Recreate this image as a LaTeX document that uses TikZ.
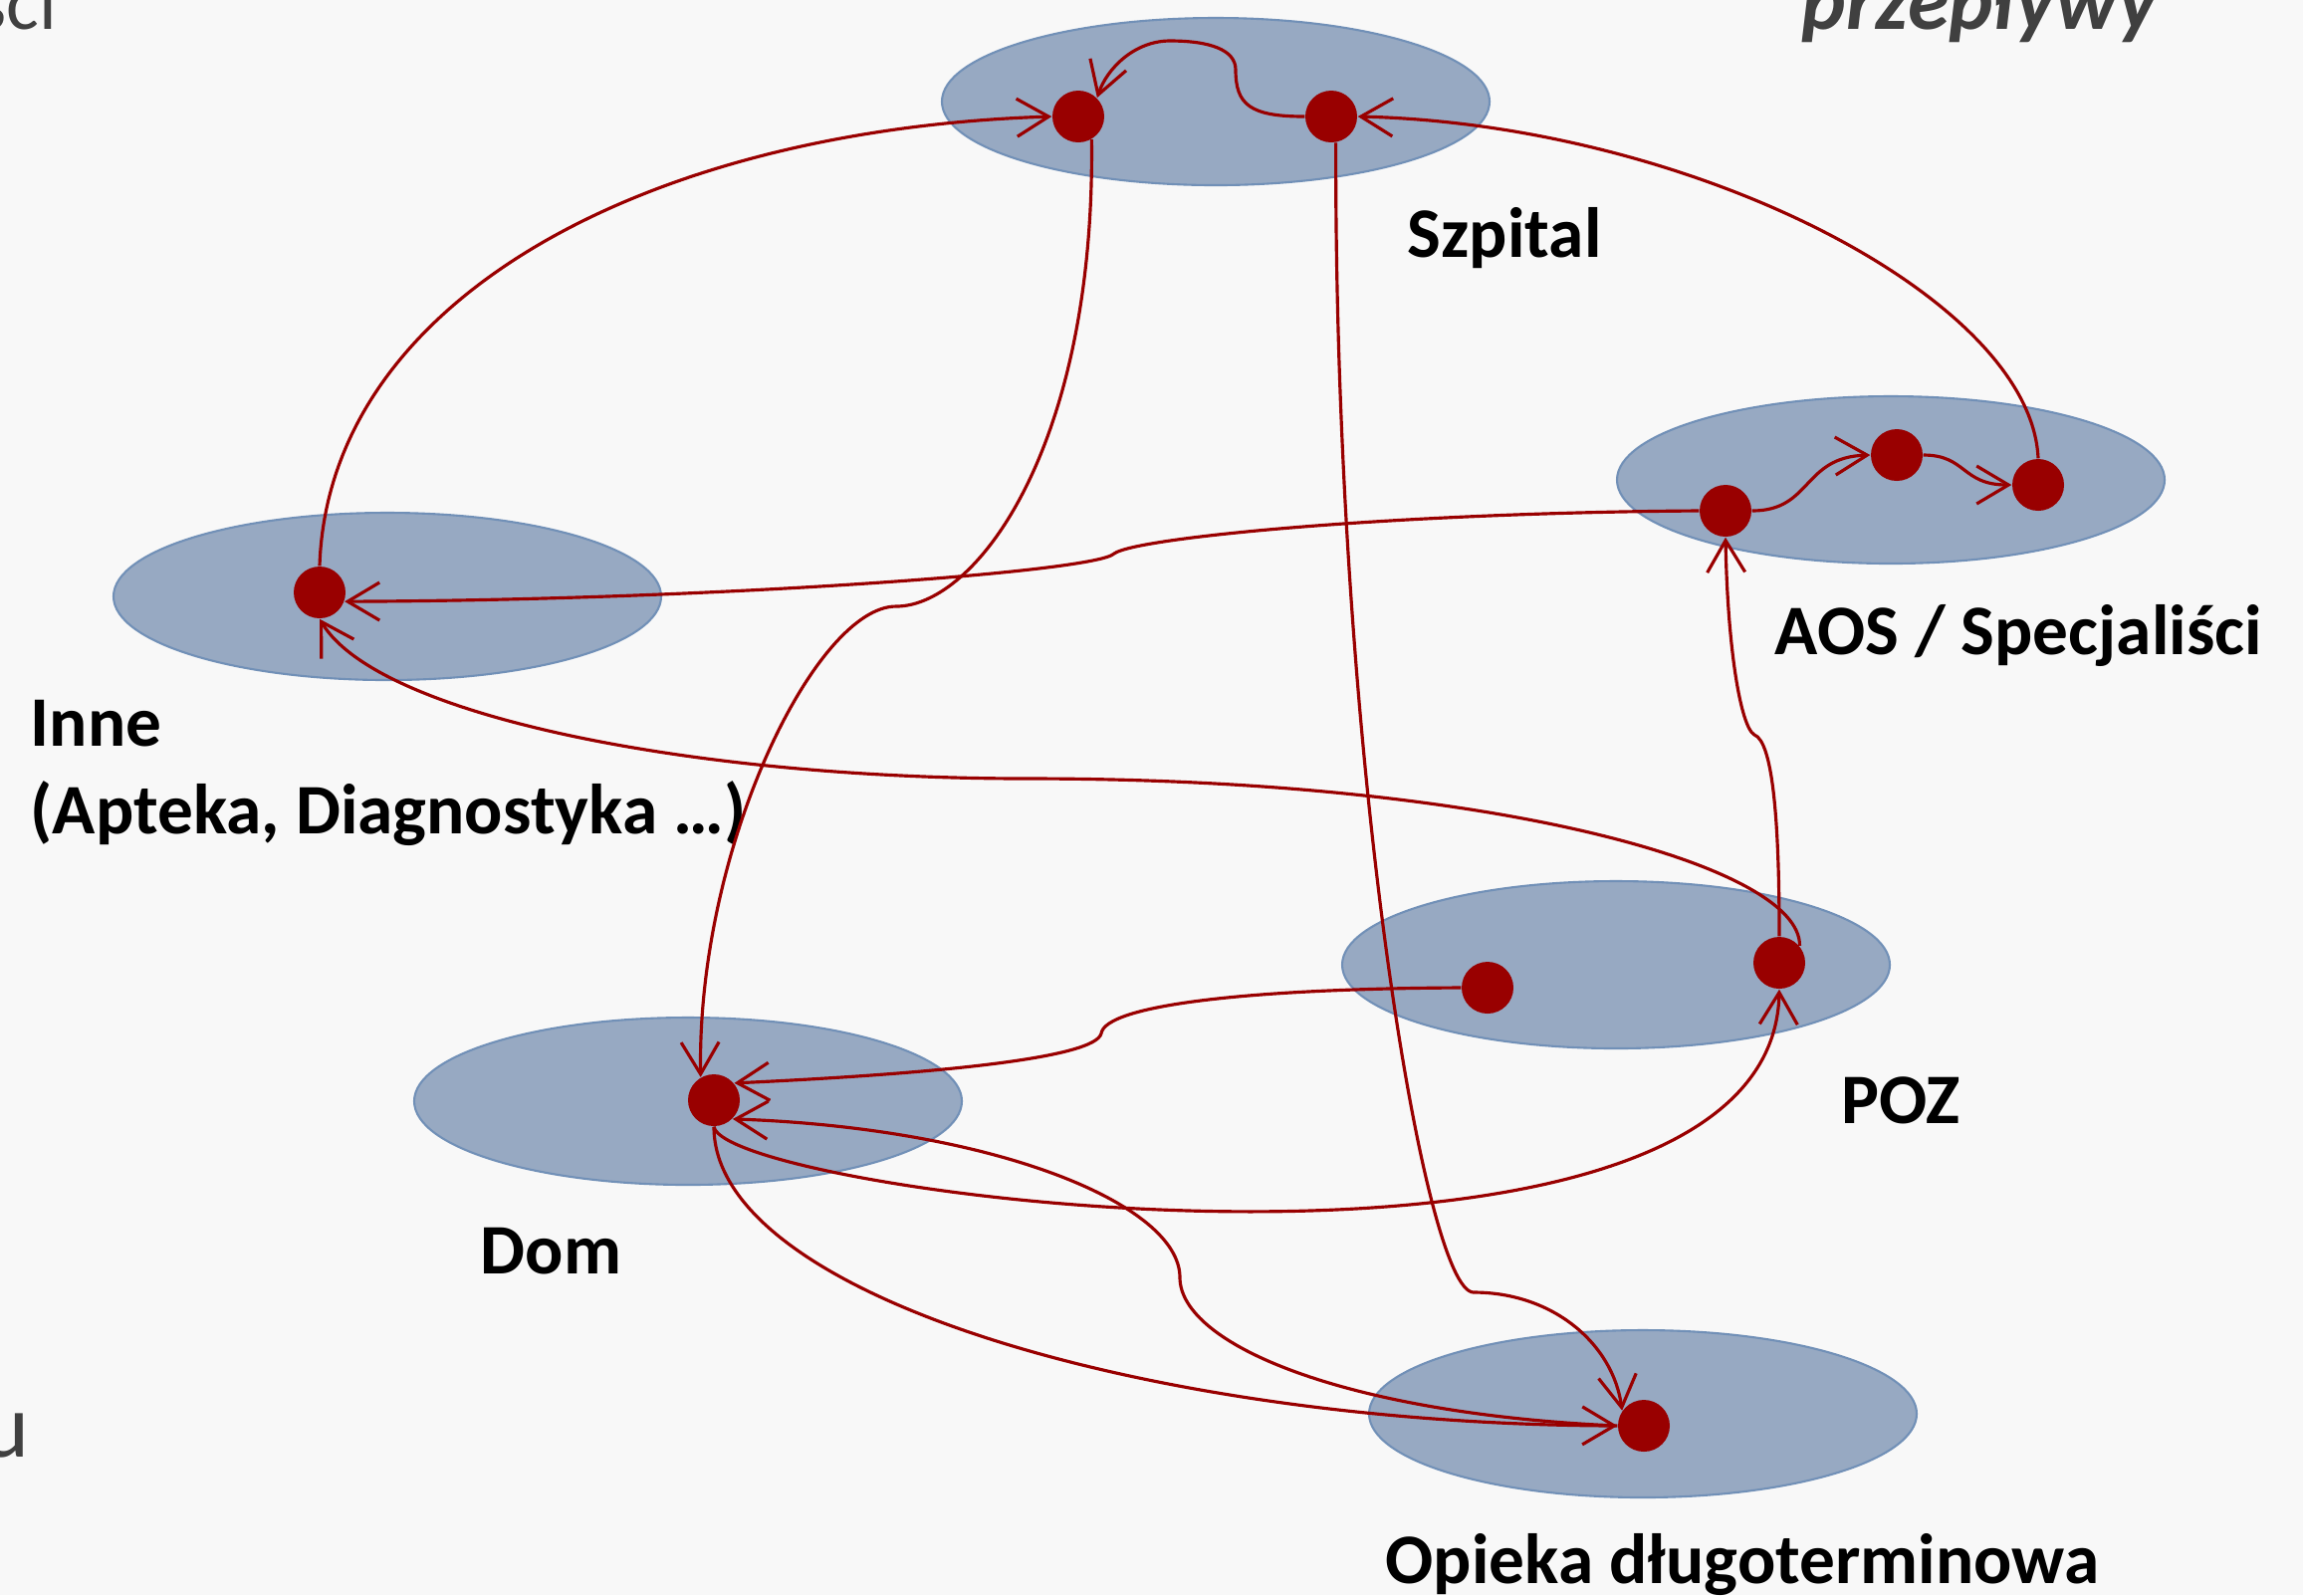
\documentclass[tikz,border=0pt]{standalone}
\usepackage{fontspec}
\setmainfont{Carlito}
\usetikzlibrary{shapes.geometric,arrows.meta}
\definecolor{flowred}{HTML}{990000}
\definecolor{placefill}{HTML}{97A9C2}
\definecolor{placeline}{HTML}{7190B7}
\definecolor{slidegrey}{HTML}{404040}
\definecolor{slidebg}{HTML}{F8F8F8}

\begin{document}
\begin{tikzpicture}[x=0.1mm,y=-0.1mm,
            place/.style={ellipse,fill=placefill,draw=placeline,line width=0.6pt,
                minimum width=55mm,minimum height=16.8mm,inner sep=0pt},
            dot/.style={circle,fill=flowred,minimum size=5.2mm,inner sep=0pt},
            flow/.style={flowred,line width=0.9pt,
                -{Straight Barb[length=3.2mm,width=3.8mm]}},
            lbl/.style={anchor=base west,inner sep=0pt,
                font=\fontsize{20.3}{24}\selectfont\bfseries},
            cut/.style={inner sep=0pt,text=slidegrey}
        ]
            \fill[slidebg] (0,0) rectangle (2313,1602);
            \useasboundingbox (0,0) rectangle (2313,1602);

            \node[cut,anchor=base east,font=\fontsize{22}{26}\selectfont] (topleft) at (58,29) {ści};
            \node[cut,anchor=base west,font=\fontsize{24}{28}\selectfont\bfseries\itshape] (topright) at (1809,29) {przepływy};
            \node[cut,anchor=base east,font=\fontsize{26}{30}\selectfont] (bottomleft) at (30,1463) {u};

            \node[place] (szpital) at (1221,102) {};
            \node[place] (aos) at (1899,482) {};
            \node[place] (inne) at (389,599) {};
            \node[place] (poz) at (1623,969) {};
            \node[place] (dom) at (691,1106) {};
            \node[place] (opieka) at (1650,1420) {};

            \node[dot] (szL) at (1083,117) {};
            \node[dot] (szR) at (1337,117) {};
            \node[dot] (aosA) at (1733,513) {};
            \node[dot] (aosB) at (1905,457) {};
            \node[dot] (aosC) at (2047,487) {};
            \node[dot] (inD) at (321,595) {};
            \node[dot] (pozA) at (1494,992) {};
            \node[dot] (pozB) at (1787,967) {};
            \node[dot] (domD) at (717,1105) {};
            \node[dot] (opD) at (1651,1432) {};

            \node[lbl] (szpitalT) at (1413,258) {Szpital};
            \node[lbl] (aosT) at (1782,657) {AOS / Specjaliści};
            \node[lbl] (inneT) at (30,749) {Inne};
            \node[lbl] (inneS) at (30,837) {(Apteka, Diagnostyka …)};
            \node[lbl] (pozT) at (1849,1128) {POZ};
            \node[lbl] (domT) at (482,1279) {Dom};
            \node[lbl] (opiekaT) at (1391,1590) {Opieka długoterminowa};

            \draw[flow] (szR.west) .. controls +(-55,0) and +(0,35) .. (1241,70)
                .. controls +(0,-20) and +(40,0) .. (1175,41)
                .. controls +(-35,0) and +(10,-30) .. (szL.45);
            \draw[flow] (inD.north) .. controls (330,300) and (650,130) .. (szL.west);
            \draw[flow] (aosC.north) .. controls (2040,300) and (1700,125) .. (szR.east);
            \draw[flow] (szL.-60) .. controls (1100,450) and (980,609) .. (900,609)
                .. controls (820,609) and (700,850) .. (domD.120);
            \draw[flow] (aosA.west) .. controls (1400,515) and (1140,540) .. (1119,556)
                .. controls (1100,575) and (700,603) .. (inD.-20);
            \draw[flow] (pozB.north) .. controls (1787,820) and (1780,745) .. (1762,738)
                .. controls (1748,730) and (1735,650) .. (aosA.south);
            \draw[flow] (pozB.40) .. controls (1809,870) and (1500,782) .. (1032,782)
                .. controls (700,782) and (380,720) .. (inD.south);
            \draw[flow] (pozA.west) .. controls (1250,993) and (1110,1010) .. (1106,1038)
                .. controls (1100,1062) and (950,1078) .. (domD.40);
            \draw[flow] (domD.south) .. controls (730,1200) and (1780,1335) .. (pozB.south);
            \draw[flow] (opD.west) .. controls (1350,1420) and (1185,1350) .. (1185,1283)
                .. controls (1185,1210) and (1000,1133) .. (domD.-45);
            \draw[flow] (domD.south) .. controls (717,1300) and (1150,1430) .. (opD.west);
            \draw[flow] (szR.-80) .. controls (1340,750) and (1430,1298) .. (1480,1298)
                .. controls (1560,1298) and (1620,1350) .. (opD.145);
            \draw[flow] (aosA.east) .. controls (1820,513) and (1810,459) .. (aosB.west);
            \draw[flow] (aosB.east) .. controls (1975,457) and (1970,487) .. (aosC.west);
        \end{tikzpicture}
\end{document}
